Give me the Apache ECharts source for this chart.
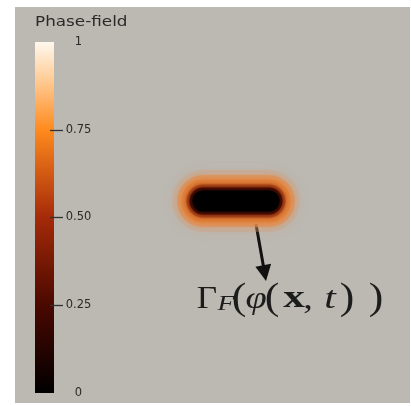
<!DOCTYPE html>
<html>
<head>
<meta charset="utf-8">
<script src="https://cdn.jsdelivr.net/npm/echarts@6/dist/echarts.min.js"></script>
<style>
  html, body { margin: 0; padding: 0; background: #ffffff; }
  #c { width: 411px; height: 406px; filter: blur(0.6px); }
</style>
</head>
<body>
<div id="c"></div>
<script>
// ---- data ----
const fieldTitle = 'Phase-field';
const colorbarTicks = [0, 0.25, 0.5, 0.75, 1];
const colorbarTickLabels = ['0', '0.25', '0.50', '0.75', '1'];
const colorbarInnerTicks = [0.25, 0.5, 0.75];
const colormapPositions = [0, 0.25, 0.5, 0.75, 0.9, 1];
const colormapColors = ['#000000', '#4a0800', '#a52a08', '#ff8a1e', '#ffcf9c', '#fff8ee'];
const colorbarValue = [1];
const crackX = [0.476, 0.643];
const crackY = [0.51, 0.51];
const arrowStart = [0.61, 0.452];
const arrowEnd = [0.632, 0.328];
// formula Γ_F(φ(x,t)) split into glyphs
const formulaGlyphs = ['Γ', 'F', '(', 'φ', '(', 'x', ',', 't', ')', ')'];

// ---- chart ----
const chart = echarts.init(document.getElementById('c'), null, { renderer: 'canvas', width: 411, height: 406 });

const crackData = crackX.map((x, i) => [x, crackY[i]]);

const layers = [
  { w: 62, c: 'rgba(210,160,125,0.30)', b: 14 },
  { w: 52, c: 'rgba(228,140,75,0.60)', b: 10 },
  { w: 43, c: '#e2823a', b: 6 },
  { w: 33, c: '#b44a1a', b: 5 },
  { w: 27, c: '#4a0c02', b: 4 },
  { w: 21, c: '#000000', b: 3 }
];

const gradientStops = colormapPositions.map((p, i) => ({ offset: 1 - p, color: colormapColors[i] })).reverse();

const crackSeries = layers.map(l => ({
  type: 'line',
  xAxisIndex: 0,
  yAxisIndex: 0,
  data: crackData,
  symbol: 'none',
  silent: true,
  lineStyle: { width: l.w, color: l.c, cap: 'round', shadowBlur: l.b, shadowColor: l.c }
}));

// glyph styles: [centerX, baselineY, fontFamily, fontSize, fontStyle, fontWeight, scaleX]
const glyphStyle = [
  [207, 310, 'Liberation Serif', 32, 'normal', 'normal', 1.1],
  [226, 312, 'Liberation Serif', 22, 'italic', 'normal', 1.25],
  [239, 312, 'Liberation Serif', 38, 'normal', 'normal', 1.15],
  [256, 310, 'Liberation Serif', 32, 'italic', 'normal', 1.2],
  [272, 312, 'Liberation Serif', 38, 'normal', 'normal', 1.15],
  [294, 310, 'Liberation Serif', 32, 'normal', 'bold', 1.35],
  [308, 310, 'Liberation Serif', 32, 'normal', 'normal', 1.2],
  [330, 310, 'Liberation Serif', 32, 'italic', 'normal', 1.3],
  [347, 312, 'Liberation Serif', 38, 'normal', 'normal', 1.15],
  [376, 312, 'Liberation Serif', 38, 'normal', 'normal', 1.15]
];

const formulaGraphics = formulaGlyphs.map((g, i) => {
  const s = glyphStyle[i];
  return {
    type: 'text', x: s[0], y: s[1] - 0.3375 * s[3], scaleX: s[6], z: 10, silent: true,
    style: {
      text: g, fontFamily: s[2], fontSize: s[3], fontStyle: s[4], fontWeight: s[5],
      fill: '#1c1c1c', align: 'center', verticalAlign: 'middle'
    }
  };
});

const option = {
  animation: false,
  backgroundColor: '#ffffff',
  grid: [
    { left: 15, right: 1, top: 7, bottom: 3, show: true, backgroundColor: '#bcb9b2', borderWidth: 0 },
    { left: 35, width: 19, top: 42, height: 351, show: false }
  ],
  xAxis: [
    { gridIndex: 0, type: 'value', min: 0, max: 1, show: false },
    { gridIndex: 1, type: 'category', data: ['phase'], show: false, boundaryGap: true }
  ],
  yAxis: [
    { gridIndex: 0, type: 'value', min: 0, max: 1, show: false },
    {
      gridIndex: 1, type: 'value', min: 0, max: 1, interval: 0.25,
      position: 'right', offset: -4, z: 5,
      axisLine: { show: false },
      splitLine: { show: false },
      axisTick: { show: true, length: 13, customValues: colorbarInnerTicks, lineStyle: { color: '#333', width: 1.3 } },
      axisLabel: {
        show: true, margin: 28.5, align: 'center',
        fontFamily: 'DejaVu Sans', fontSize: 11.5, color: '#2a2a2a',
        customValues: colorbarTicks,
        formatter: v => colorbarTickLabels[Math.round(v * 4)]
      }
    }
  ],
  series: crackSeries.concat([
    {
      type: 'lines',
      coordinateSystem: 'cartesian2d',
      xAxisIndex: 0, yAxisIndex: 0,
      silent: true,
      symbol: ['none', 'triangle'],
      symbolSize: [19, 16],
      lineStyle: { color: '#111', width: 3, opacity: 1 },
      data: [{ coords: [arrowStart, arrowEnd] }]
    },
    {
      type: 'bar',
      xAxisIndex: 1, yAxisIndex: 1,
      barWidth: '100%',
      silent: true,
      data: colorbarValue,
      itemStyle: { color: new echarts.graphic.LinearGradient(0, 0, 0, 1, gradientStops) }
    }
  ]),
  graphic: [
    {
      type: 'text', x: 35, y: 15, scaleX: 1.2, z: 10,
      style: { text: fieldTitle, fontFamily: 'DejaVu Sans', fontSize: 14, fill: '#2a2a2a', verticalAlign: 'top' }
    }
  ].concat(formulaGraphics)
};

chart.setOption(option);
</script>
</body>
</html>
